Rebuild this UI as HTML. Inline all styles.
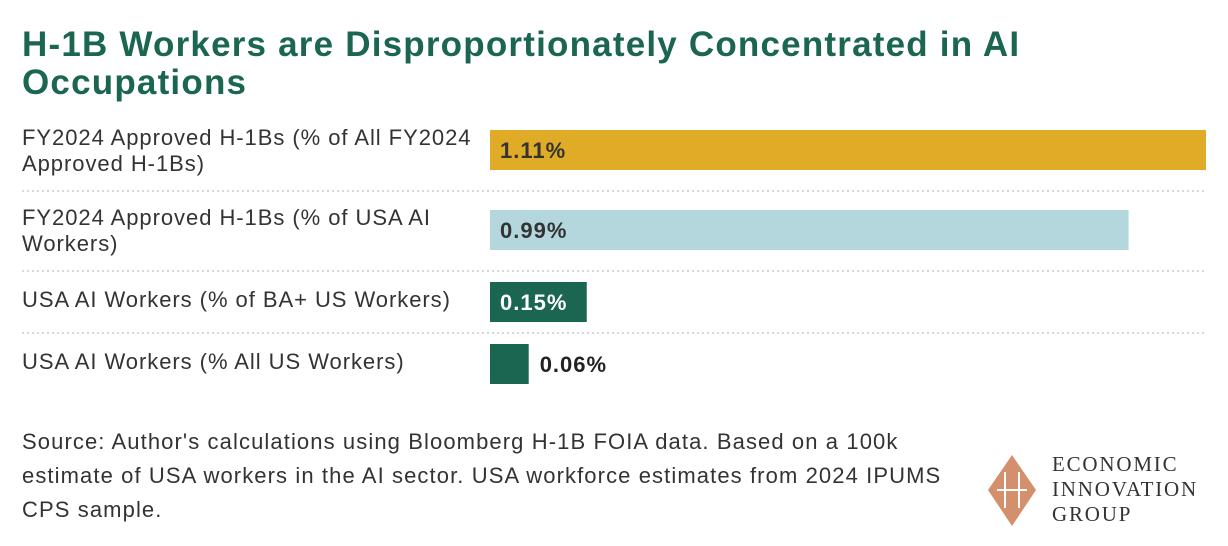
<!DOCTYPE html>
<html><head><meta charset="utf-8"><style>
body{margin:0;width:1228px;height:546px;background:#fff;font-family:"Liberation Sans",sans-serif;overflow:hidden;position:relative}
h1{position:absolute;left:22px;top:26px;margin:0;font-size:35px;line-height:38px;color:#1b6650;font-weight:bold;width:1070px;letter-spacing:1.2px}
.src{position:absolute;left:22px;top:425px;font-size:22px;line-height:34px;color:#333;width:960px;letter-spacing:1.1px}
.logo{position:absolute;left:985px;top:452px}
</style></head><body>
<h1>H-1B Workers are Disproportionately Concentrated in AI Occupations</h1>
<svg id="chart" width="1228" height="546" style="position:absolute;left:0;top:0"></svg>
<div class="src">Source: Author's calculations using Bloomberg H-1B FOIA data. Based on a 100k estimate of USA workers in the AI sector. USA workforce estimates from 2024 IPUMS CPS sample.</div>
<svg class="logo" width="240" height="80">
<polygon points="27,3 51,38 27,74 3,38" fill="#d4906c"/>
<path d="M20,20 L20,56 M34,20 L34,56 M12,38 L42,38" stroke="#fff" stroke-width="2" fill="none"/>
<text x="67" y="19" font-family="Liberation Serif,serif" font-size="21" fill="#333" letter-spacing="1.8">ECONOMIC</text>
<text x="67" y="44" font-family="Liberation Serif,serif" font-size="21" fill="#333" letter-spacing="1.8">INNOVATION</text>
<text x="67" y="69" font-family="Liberation Serif,serif" font-size="21" fill="#333" letter-spacing="1.8">GROUP</text>
</svg>
<script>
const categories=[["FY2024 Approved H-1Bs (% of All FY2024","Approved H-1Bs)"],["FY2024 Approved H-1Bs (% of USA AI","Workers)"],["USA AI Workers (% of BA+ US Workers)"],["USA AI Workers (% All US Workers)"]];
const values=[1.11,0.99,0.15,0.06];
const labels=["1.11%","0.99%","0.15%","0.06%"];
const colors=["#e0ab26","#b3d7dc","#1b6650","#1b6650"];
const textColors=["#333","#333","#fff","#222"];
const svg=document.getElementById('chart');const NS="http://www.w3.org/2000/svg";
const x0=490,xMax=1206;const x=v=>x0+(xMax-x0)*v/Math.max(...values);
let y=130;
categories.forEach((c,i)=>{
  const r=document.createElementNS(NS,'rect');
  
  
  r.setAttribute('x',x0);r.setAttribute('y',y);r.setAttribute('width',x(values[i])-x0);r.setAttribute('height',40);r.setAttribute('fill',colors[i]);svg.appendChild(r);
  const t=document.createElementNS(NS,'text');
  
  
  const inside=x(values[i])-x0>90;
  t.setAttribute('x',inside?x0+10:x(values[i])+11);t.setAttribute('y',y+28);t.setAttribute('font-size','22');t.setAttribute('letter-spacing','1');t.setAttribute('font-weight','bold');t.setAttribute('fill',textColors[i]);t.textContent=labels[i];svg.appendChild(t);
  const ly=c.length>1?y+15:y+25;
  c.forEach((line,j)=>{const l=document.createElementNS(NS,'text');
    
    
    l.setAttribute('x',22);l.setAttribute('y',ly+j*26);l.setAttribute('font-size','22');l.setAttribute('letter-spacing','0.95');l.setAttribute('fill','#333');l.textContent=line;svg.appendChild(l);});
  if(i<categories.length-1){const d=document.createElementNS(NS,'line');
    
    
    const sy=c.length>1?y+61:y+51;
    d.setAttribute('x1',22);d.setAttribute('x2',1206);d.setAttribute('y1',sy);d.setAttribute('y2',sy);d.setAttribute('stroke','#ccc');d.setAttribute('stroke-dasharray','2,3');d.setAttribute('stroke-width','1.5');svg.appendChild(d);}
  y+=c.length>1?(i==0?80:72):62;
});
</script>
</body></html>
